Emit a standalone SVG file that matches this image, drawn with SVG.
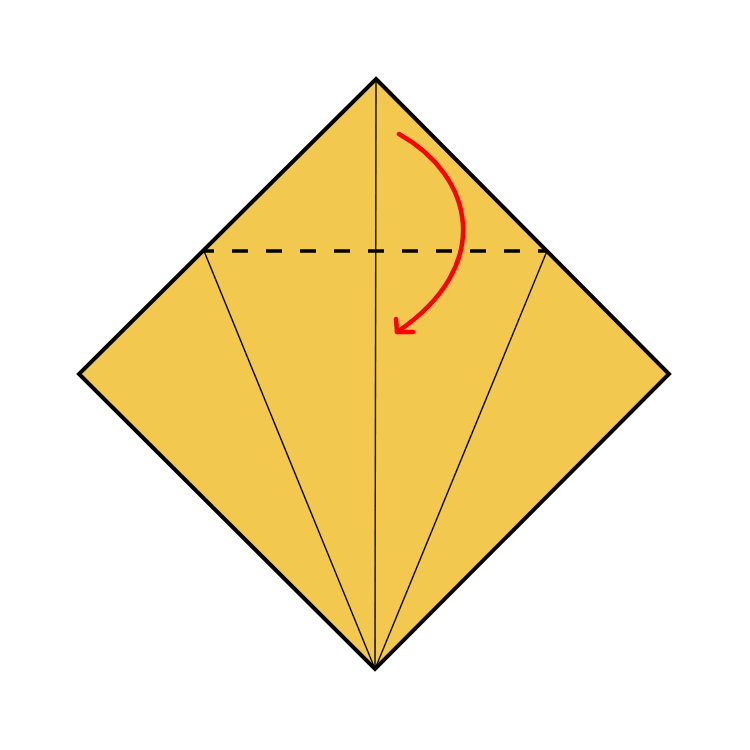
<svg xmlns="http://www.w3.org/2000/svg" width="750" height="750" viewBox="0 0 750 750">
<style>
.crease{stroke:#000;stroke-width:1.4;fill:none}
.valley{stroke:#000;stroke-width:3.5;stroke-dasharray:16 18;stroke-dashoffset:6;fill:none}
.arrow{stroke:#ff0000;stroke-width:4.5;fill:none;stroke-linecap:round;stroke-linejoin:round}
</style>
<rect width="750" height="750" fill="#fff"/>
<g id="paper">
<polygon points="376,79 669,374 375,669 79,374" fill="#F3C84E" stroke="#000" stroke-width="4" stroke-linejoin="miter"/>
</g>
<g id="connectors">
<line class="crease" x1="376" y1="79" x2="375" y2="669"/>
<line class="crease" x1="204" y1="251" x2="375" y2="669"/>
<line class="crease" x1="547" y1="251" x2="375" y2="669"/>
<line class="valley" x1="204" y1="251" x2="547" y2="251"/>
</g>
<g id="arrow">
<path class="arrow" d="M399,134 C474,176 495,266 397,332"/>
<path class="arrow" d="M396,319 L397,332 L413,332"/>
</g>
</svg>
